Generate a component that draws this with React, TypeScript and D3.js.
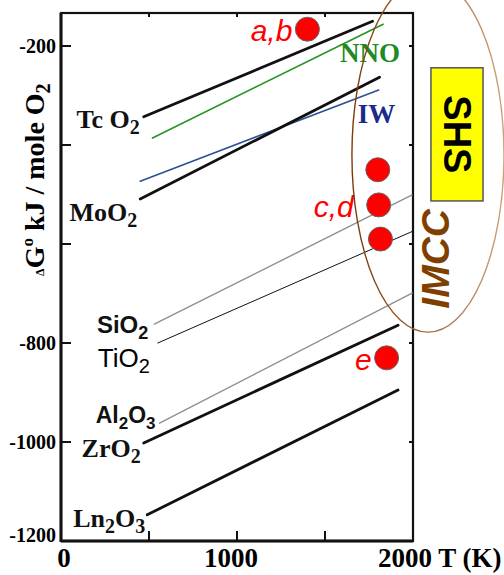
import * as d3 from 'd3';
import { useEffect, useRef } from 'react';

// Ellingham lines: start / end point of each oxide (T in K, dG in kJ / mole O2)
const lineNames = ['TcO2', 'NNO', 'IW', 'MoO2', 'SiO2', 'TiO2', 'Al2O3', 'ZrO2', 'Ln2O3'];
const lineT0 = [470, 520, 450, 450, 530, 550, 560, 470, 490];
const lineG0 = [-343, -386, -473, -509, -762, -800, -962, -1002, -1147];
const lineT1 = [1770, 1830, 1805, 1810, 1995, 2000, 1995, 1915, 1915];
const lineG1 = [-150, -156, -289, -263, -501, -574, -699, -764, -895];

// reaction points
const dotT = [1400, 1800, 1805, 1815, 1850];
const dotG = [-166, -450, -521, -590, -830];
const dotLabels = ['a,b', '', 'c,d', '', 'e'];

const yTicks = [-200, -400, -600, -800, -1000, -1200];
const yTickLabels = ['-200', '', '', '-800', '-1000', '-1200'];
const xTicks = [0, 500, 1000, 1500, 2000];
const xTickLabels = ['0', '', '1000', '', '2000 T (K)'];

const SERIF = "'Liberation Serif', 'Times New Roman', serif";
const SANS = "'Liberation Sans', Arial, sans-serif";

// look of each line and its label (parts: [text, isSub])
const lineLook = {
    TcO2: { stroke: '#111', w: 2.8, font: SERIF, bold: true, size: 26, color: '#111', parts: [['Tc O', 0], ['2', 1]], at: 'start', dx: -4, dy: 11 },
    NNO: { stroke: '#259325', w: 1.6, font: SERIF, bold: true, size: 27, color: '#1f8a1f', parts: [['NNO', 0]], at: 'end', dx: -43, dy: 38 },
    IW: { stroke: '#2c4f98', w: 1.6, font: SERIF, bold: true, size: 27, color: '#1c2a8c', parts: [['IW', 0]], at: 'end', dx: -21, dy: 33 },
    MoO2: { stroke: '#111', w: 2.8, font: SERIF, bold: true, size: 26, color: '#111', parts: [['MoO', 0], ['2', 1]], at: 'start', dx: -3, dy: 22 },
    SiO2: { stroke: '#8f8f8f', w: 1.4, font: SANS, bold: true, size: 24, color: '#111', parts: [['SiO', 0], ['2', 1]], at: 'start', dx: -6, dy: 9 },
    TiO2: { stroke: '#111', w: 1, font: SANS, bold: false, size: 26, color: '#000', parts: [['TiO', 0], ['2', 1]], at: 'start', dx: -8, dy: 24 },
    Al2O3: { stroke: '#8f8f8f', w: 1.4, font: SANS, bold: true, size: 23, color: '#111', parts: [['Al', 0], ['2', 1], ['O', 0], ['3', 1]], at: 'start', dx: -4, dy: 0 },
    ZrO2: { stroke: '#111', w: 2.8, font: SERIF, bold: true, size: 26, color: '#111', parts: [['ZrO', 0], ['2', 1]], at: 'start', dx: -3, dy: 14 },
    Ln2O3: { stroke: '#111', w: 2.8, font: SERIF, bold: true, size: 26, color: '#111', parts: [['Ln', 0], ['2', 1], ['O', 0], ['3', 1]], at: 'start', dx: -2, dy: 12 },
};

const Chart = () => {
    const ref = useRef(null);

    useEffect(() => {
        const svg = d3.select(ref.current);
        svg.selectAll('*').remove();

        const x = d3.scaleLinear().domain([0, 2000]).range([61, 413]);
        const y = d3.scaleLinear().domain([-1200, -200]).range([541, 46]);
        const yTop = y.invert(13);

        // ellipse gradient
        const defs = svg.append('defs');
        const grad = defs.append('linearGradient').attr('id', 'ellGrad').attr('x1', '0').attr('x2', '1').attr('y1', '0').attr('y2', '0');
        grad.append('stop').attr('offset', '0%').attr('stop-color', '#7a3a08');
        grad.append('stop').attr('offset', '100%').attr('stop-color', '#c9a27c');

        // frame
        svg.append('rect')
            .attr('x', x(0))
            .attr('y', y(yTop))
            .attr('width', x(2000) - x(0))
            .attr('height', y(-1200) - y(yTop))
            .attr('fill', 'none')
            .attr('stroke', '#111')
            .attr('stroke-width', 2.2);
        svg.append('line')
            .attr('x1', x(0)).attr('x2', x(0))
            .attr('y1', y(yTop)).attr('y2', y(-1200) + 1)
            .attr('stroke', '#111').attr('stroke-width', 3);
        svg.append('line')
            .attr('x1', x(0)).attr('x2', x(2000))
            .attr('y1', y(-1200)).attr('y2', y(-1200))
            .attr('stroke', '#111').attr('stroke-width', 3);

        // ticks: long on left / bottom, short on top / right
        yTicks.forEach((v, i) => {
            svg.append('line').attr('x1', x(0)).attr('x2', x(0) + 10).attr('y1', y(v)).attr('y2', y(v))
                .attr('stroke', '#111').attr('stroke-width', 2);
            svg.append('line').attr('x1', x(2000)).attr('x2', x(2000) - 4).attr('y1', y(v)).attr('y2', y(v))
                .attr('stroke', '#111').attr('stroke-width', 2);
            if (yTickLabels[i]) {
                svg.append('text')
                    .attr('x', 56)
                    .attr('y', y(v) + (v === -1200 ? 1 : 7))
                    .attr('text-anchor', 'end')
                    .style('font-family', SERIF)
                    .style('font-weight', 'bold')
                    .style('font-size', '20px')
                    .text(yTickLabels[i]);
            }
        });
        xTicks.forEach((v, i) => {
            if (v > 0 && v < 2000) {
                svg.append('line').attr('x1', x(v)).attr('x2', x(v)).attr('y1', y(-1200)).attr('y2', y(-1200) - 10)
                    .attr('stroke', '#111').attr('stroke-width', 2);
                svg.append('line').attr('x1', x(v)).attr('x2', x(v)).attr('y1', y(yTop)).attr('y2', y(yTop) + 4)
                    .attr('stroke', '#111').attr('stroke-width', 2);
            }
            if (xTickLabels[i]) {
                const last = v === 2000;
                svg.append('text')
                    .attr('x', last ? x(v) - 35 : x(v) + (v === 0 ? 3 : -6))
                    .attr('y', 567)
                    .attr('text-anchor', last ? 'start' : 'middle')
                    .style('font-family', SERIF)
                    .style('font-weight', 'bold')
                    .style('font-size', '27px')
                    .text(xTickLabels[i]);
            }
        });

        // y axis title
        const yt = svg.append('text')
            .attr('transform', `translate(44, ${y(-470)}) rotate(-90)`)
            .attr('text-anchor', 'middle')
            .style('font-family', SERIF)
            .style('font-weight', 'bold')
            .style('font-size', '28px');
        yt.append('tspan').style('font-size', '12px').text('\u0394');
        yt.append('tspan').text('G');
        yt.append('tspan').attr('dy', -11).style('font-size', '17px').text('o');
        yt.append('tspan').attr('dy', 11).text(' kJ / mole O');
        yt.append('tspan').attr('dy', 6).style('font-size', '20px').text('2');

        // lines
        lineNames.forEach((name, i) => {
            const look = lineLook[name];
            svg.append('line')
                .attr('x1', x(lineT0[i]))
                .attr('y1', y(lineG0[i]))
                .attr('x2', x(lineT1[i]))
                .attr('y2', y(lineG1[i]))
                .attr('stroke', look.stroke)
                .attr('stroke-width', look.w)
                .attr('stroke-linecap', 'round');

            const ax = look.at === 'start' ? x(lineT0[i]) : x(lineT1[i]);
            const ay = look.at === 'start' ? y(lineG0[i]) : y(lineG1[i]);
            const t = svg.append('text')
                .attr('x', ax + look.dx)
                .attr('y', ay + look.dy)
                .attr('text-anchor', look.at === 'start' ? 'end' : 'start')
                .attr('fill', look.color)
                .style('font-family', look.font)
                .style('font-weight', look.bold ? 'bold' : 'normal')
                .style('font-size', `${look.size}px`);
            let shift = 0;
            look.parts.forEach(([s, sub]) => {
                const want = sub ? 6 : 0;
                const sp = t.append('tspan').attr('dy', want - shift).text(s);
                if (sub) sp.style('font-size', `${Math.round(look.size * 0.75)}px`);
                shift = want;
            });
        });

        // reaction points
        dotT.forEach((tv, i) => {
            svg.append('circle')
                .attr('cx', x(tv))
                .attr('cy', y(dotG[i]))
                .attr('r', 12)
                .attr('fill', '#ff0000')
                .attr('stroke', '#666')
                .attr('stroke-width', 1);
            if (dotLabels[i]) {
                svg.append('text')
                    .attr('x', x(tv) - (i === 2 ? 25 : 15))
                    .attr('y', y(dotG[i]) + 12)
                    .attr('text-anchor', 'end')
                    .attr('fill', '#ff0000')
                    .style('font-family', SANS)
                    .style('font-style', 'italic')
                    .style('font-size', '30px')
                    .text(dotLabels[i]);
            }
        });

        // IMCC ellipse
        svg.append('ellipse')
            .attr('cx', x(2085))
            .attr('cy', y(-420))
            .attr('rx', x(432) - x(0))
            .attr('ry', y(-558) - y(-200))
            .attr('fill', 'none')
            .attr('stroke', 'url(#ellGrad)')
            .attr('stroke-width', 1.4);

        // SHS box
        svg.append('rect')
            .attr('x', x(2102))
            .attr('y', y(-244))
            .attr('width', x(2398) - x(2102))
            .attr('height', y(-513) - y(-244))
            .attr('fill', '#ffff00')
            .attr('stroke', '#555')
            .attr('stroke-width', 1.5);
        svg.append('text')
            .attr('transform', `translate(${(x(2102) + x(2398)) / 2}, ${(y(-244) + y(-513)) / 2}) rotate(90)`)
            .attr('text-anchor', 'middle')
            .attr('dominant-baseline', 'central')
            .style('font-family', SANS)
            .style('font-weight', 'bold')
            .style('font-size', '38px')
            .text('SHS');

        svg.append('text')
            .attr('transform', `translate(${x(2130)}, ${y(-630)}) rotate(-90)`)
            .attr('text-anchor', 'middle')
            .attr('dominant-baseline', 'central')
            .attr('fill', '#7f3f00')
            .style('font-family', SANS)
            .style('font-weight', 'bold')
            .style('font-style', 'italic')
            .style('font-size', '39px')
            .text('IMCC');
    }, []);

    return (
        <svg
            ref={ref}
            width={504}
            height={575}
            style={{ position: 'absolute', left: 0, top: 0, background: '#fff' }}
        />
    );
};

export default function App() {
    return <Chart />;
}
